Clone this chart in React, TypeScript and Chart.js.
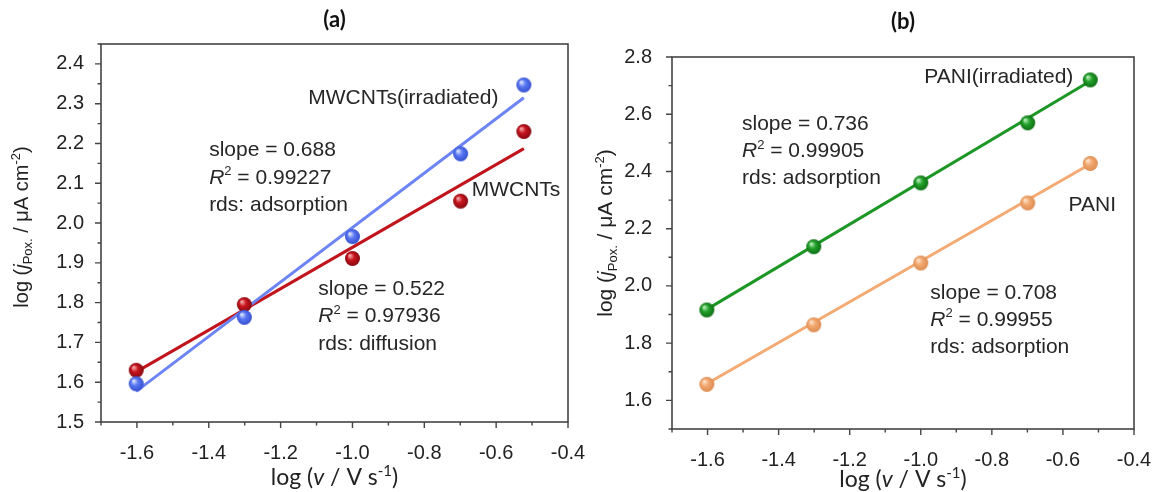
import React, { useEffect, useRef } from 'react';
import { Chart, registerables } from 'chart.js';

Chart.register(...registerables);

// ---------------- data ----------------
const logScanRate = [-1.602, -1.301, -1.0, -0.699, -0.523];
const mwcntsIrradiated = [1.596, 1.763, 1.966, 2.174, 2.347];
const mwcnts = [1.63, 1.795, 1.911, 2.055, 2.23];
const paniIrradiated = [1.916, 2.137, 2.36, 2.57, 2.72];
const pani = [1.656, 1.864, 2.08, 2.29, 2.428];

// end points of the fitted straight lines
const fitRange = [-1.602, -0.523];
const mwcntsIrradiatedFit = [1.577, 2.315];
const mwcntsFit = [1.626, 2.187];
const paniIrradiatedFit = [1.918, 2.716];
const paniFit = [1.658, 2.426];

const xMajorTicks = [-1.6, -1.4, -1.2, -1.0, -0.8, -0.6, -0.4];
const xMinorTicks = [-1.7, -1.5, -1.3, -1.1, -0.9, -0.7, -0.5];
const yMajorTicksA = [1.5, 1.6, 1.7, 1.8, 1.9, 2.0, 2.1, 2.2, 2.3, 2.4];
const yMinorTicksA = [1.55, 1.65, 1.75, 1.85, 1.95, 2.05, 2.15, 2.25, 2.35, 2.45];
const yMajorTicksB = [1.6, 1.8, 2.0, 2.2, 2.4, 2.6, 2.8];
const yMinorTicksB = [1.5, 1.7, 1.9, 2.1, 2.3, 2.5, 2.7];

// ---------------- rich text helpers ----------------
type Seg = { t: string; it?: boolean; sup?: boolean; sub?: boolean };

const SANS = '"Liberation Sans", Arial, sans-serif';
const TITLE_FONT = 'Lato, "Open Sans", sans-serif';

function segFont(s: Seg, size: number, family: string, bold = false) {
  const sz = s.sup || s.sub ? Math.round(size * 0.64) : size;
  return `${s.it ? 'italic ' : ''}${bold ? 'bold ' : ''}${sz}px ${family}`;
}

function richWidth(ctx: CanvasRenderingContext2D, segs: Seg[], size: number, family: string) {
  let w = 0;
  for (const s of segs) {
    ctx.font = segFont(s, size, family);
    w += ctx.measureText(s.t).width;
  }
  return w;
}

function drawRich(
  ctx: CanvasRenderingContext2D,
  segs: Seg[],
  x: number,
  y: number,
  size: number,
  family: string,
  align: 'left' | 'center',
  color: string
) {
  const w = richWidth(ctx, segs, size, family);
  let cx = align === 'center' ? x - w / 2 : x;
  ctx.save();
  ctx.fillStyle = color;
  ctx.textAlign = 'left';
  ctx.textBaseline = 'alphabetic';
  for (const s of segs) {
    ctx.font = segFont(s, size, family);
    const dy = s.sup ? -size * 0.4 : s.sub ? size * 0.22 : 0;
    ctx.fillText(s.t, cx, y + dy);
    cx += ctx.measureText(s.t).width;
  }
  ctx.restore();
}

function sphere(base: string, light: string, dark: string, r = 7.5) {
  const c = document.createElement('canvas');
  const size = Math.ceil(2 * r + 2);
  c.width = size;
  c.height = size;
  const g = c.getContext('2d') as CanvasRenderingContext2D;
  const cx = size / 2;
  const cy = size / 2;
  const grad = g.createRadialGradient(cx - r * 0.38, cy - r * 0.42, r * 0.05, cx, cy, r);
  grad.addColorStop(0, light);
  grad.addColorStop(0.45, base);
  grad.addColorStop(1, dark);
  g.fillStyle = grad;
  g.beginPath();
  g.arc(cx, cy, r, 0, Math.PI * 2);
  g.fill();
  return c;
}

const yTitle: Seg[] = [
  { t: 'log (' },
  { t: 'j', it: true },
  { t: 'Pox.', sub: true },
  { t: ' / \u03bcA cm' },
  { t: '-2', sup: true },
  { t: ')' },
];
const xTitle: Seg[] = [{ t: 'log (' }, { t: 'v', it: true }, { t: ' / V s' }, { t: '-1', sup: true }, { t: ')' }];

const statBlock = (slope: string, r2: string, rds: string): Seg[][] => [
  [{ t: `slope = ${slope}` }],
  [{ t: 'R', it: true }, { t: '2', sup: true }, { t: ` = ${r2}` }],
  [{ t: `rds: ${rds}` }],
];

type Note = { x: number; y: number; lines: Seg[][] };

type SeriesCfg = {
  values: number[];
  fit: number[];
  line: string;
  ball: [string, string, string];
};

type PanelCfg = {
  title: string;
  left: number;
  width: number;
  padTop: number;
  padRight: number;
  yAxisWidth: number;
  xAxisHeight: number;
  yMin: number;
  yMax: number;
  yMajor: number[];
  yMinor: number[];
  yPad: number;
  xPad: number;
  series: SeriesCfg[];
  notes: Note[];
  lineGap: number;
  yTitleX: number;
  yTitleShift: number;
  yTitleSize: number;
  xTitleY: number;
  titleY: number;
};

const panels: PanelCfg[] = [
  {
    title: '(a)',
    left: 0,
    width: 600,
    padTop: 44,
    padRight: 32,
    yAxisWidth: 101,
    xAxisHeight: 70,
    yMin: 1.5,
    yMax: 2.45,
    yMajor: yMajorTicksA,
    yMinor: yMinorTicksA,
    yPad: 9,
    xPad: 11,
    series: [
      { values: mwcntsIrradiated, fit: mwcntsIrradiatedFit, line: '#6d84f4', ball: ['#5a78f2', '#e6ebff', '#3550d0'] },
      { values: mwcnts, fit: mwcntsFit, line: '#c1151d', ball: ['#c8141e', '#f7b0b0', '#860a10'] },
    ],
    notes: [
      { x: -1.123, y: 2.3, lines: [[{ t: 'MWCNTs(irradiated)' }]] },
      { x: -0.668, y: 2.067, lines: [[{ t: 'MWCNTs' }]] },
      { x: -1.399, y: 2.168, lines: statBlock('0.688', '0.99227', 'adsorption') },
      { x: -1.095, y: 1.82, lines: statBlock('0.522', '0.97936', 'diffusion') },
    ],
    lineGap: 27.5,
    yTitleX: 28,
    yTitleShift: -6,
    yTitleSize: 20,
    xTitleY: 485,
    titleY: 20,
  },
  {
    title: '(b)',
    left: 576,
    width: 576,
    padTop: 57,
    padRight: 18,
    yAxisWidth: 96,
    xAxisHeight: 63,
    yMin: 1.5,
    yMax: 2.8,
    yMajor: yMajorTicksB,
    yMinor: yMinorTicksB,
    yPad: 12,
    xPad: 11,
    series: [
      { values: paniIrradiated, fit: paniIrradiatedFit, line: '#1c9624', ball: ['#22a12a', '#c4f5c4', '#0f6e15'] },
      { values: pani, fit: paniFit, line: '#f4aa72', ball: ['#f3a86f', '#fde6d4', '#dc8c52'] },
    ],
    notes: [
      { x: -0.99, y: 2.708, lines: [[{ t: 'PANI(irradiated)' }]] },
      { x: -0.584, y: 2.263, lines: [[{ t: 'PANI' }]] },
      { x: -1.503, y: 2.544, lines: statBlock('0.736', '0.99905', 'adsorption') },
      { x: -0.973, y: 1.956, lines: statBlock('0.708', '0.99955', 'adsorption') },
    ],
    lineGap: 27,
    yTitleX: 36,
    yTitleShift: -10,
    yTitleSize: 21,
    xTitleY: 487,
    titleY: 22,
  },
];

function ChartPanel({ cfg }: { cfg: PanelCfg }) {
  const ref = useRef<HTMLCanvasElement | null>(null);

  useEffect(() => {
    document.body.style.margin = '0';
    const canvas = ref.current;
    if (!canvas) return;

    const datasets: any[] = [];
    cfg.series.forEach((s) => {
      datasets.push({
        data: logScanRate.map((x, i) => ({ x, y: s.values[i] })),
        pointStyle: sphere(s.ball[0], s.ball[1], s.ball[2]),
        pointRadius: 7,
        showLine: false,
        order: 0,
      });
    });
    cfg.series.forEach((s) => {
      datasets.push({
        data: fitRange.map((x, i) => ({ x, y: s.fit[i] })),
        showLine: true,
        borderColor: s.line,
        borderWidth: 3,
        pointRadius: 0,
        order: 1,
      });
    });

    const decor = {
      id: 'decor',
      afterDatasetsDraw(chart: any) {
        const ctx: CanvasRenderingContext2D = chart.ctx;
        const a = chart.chartArea;
        const xs = chart.scales.x;
        const ys = chart.scales.y;
        ctx.save();
        ctx.strokeStyle = '#444';
        ctx.lineWidth = 1.6;
        ctx.strokeRect(a.left, a.top, a.right - a.left, a.bottom - a.top);
        ctx.lineWidth = 1.4;
        ctx.beginPath();
        const tickX = (v: number, len: number) => {
          const p = xs.getPixelForValue(v);
          ctx.moveTo(p, a.bottom);
          ctx.lineTo(p, a.bottom + len);
        };
        const tickY = (v: number, len: number) => {
          const p = ys.getPixelForValue(v);
          ctx.moveTo(a.left, p);
          ctx.lineTo(a.left - len, p);
        };
        xMajorTicks.forEach((v) => tickX(v, 6));
        xMinorTicks.forEach((v) => tickX(v, 3.5));
        cfg.yMajor.forEach((v) => tickY(v, 6));
        cfg.yMinor.forEach((v) => tickY(v, 3.5));
        ctx.stroke();
        ctx.restore();
      },
      afterDraw(chart: any) {
        const ctx: CanvasRenderingContext2D = chart.ctx;
        const a = chart.chartArea;
        const xs = chart.scales.x;
        const ys = chart.scales.y;
        // annotations
        cfg.notes.forEach((n) => {
          const px = xs.getPixelForValue(n.x);
          const py = ys.getPixelForValue(n.y);
          n.lines.forEach((line, i) => {
            drawRich(ctx, line, px, py + i * cfg.lineGap, 21, SANS, 'left', '#262626');
          });
        });
        // panel title
        ctx.save();
        ctx.font = `bold 22px ${TITLE_FONT}`;
        ctx.fillStyle = '#111';
        ctx.textAlign = 'center';
        ctx.textBaseline = 'middle';
        ctx.fillText(cfg.title, (a.left + a.right) / 2, cfg.titleY);
        ctx.restore();
        // x title
        drawRich(ctx, xTitle, (a.left + a.right) / 2, cfg.xTitleY, 23, TITLE_FONT, 'center', '#222');
        // y title
        ctx.save();
        ctx.translate(cfg.yTitleX, (a.top + a.bottom) / 2 + cfg.yTitleShift);
        ctx.rotate(-Math.PI / 2);
        drawRich(ctx, yTitle, 0, 0, cfg.yTitleSize, SANS, 'center', '#222');
        ctx.restore();
      },
    };

    const chart = new Chart(canvas, {
      type: 'scatter',
      data: { datasets },
      options: {
        animation: false,
        responsive: false,
        maintainAspectRatio: false,
        layout: { padding: { top: cfg.padTop, right: cfg.padRight, left: 0, bottom: 0 } },
        plugins: { legend: { display: false }, tooltip: { enabled: false }, title: { display: false } },
        scales: {
          x: {
            type: 'linear',
            min: -1.7,
            max: -0.4,
            grid: { display: false },
            border: { display: false },
            afterBuildTicks: (s: any) => {
              s.ticks = xMajorTicks.map((v) => ({ value: v }));
            },
            afterFit: (s: any) => {
              s.height = cfg.xAxisHeight;
              s.paddingLeft = 0;
              s.paddingRight = 0;
              s.paddingTop = 0;
              s.paddingBottom = 0;
            },
            ticks: {
              autoSkip: false,
              maxRotation: 0,
              padding: cfg.xPad,
              color: '#222',
              font: { family: SANS, size: 20 },
              callback: (v: any) => Number(v).toFixed(1),
            },
          },
          y: {
            type: 'linear',
            min: cfg.yMin,
            max: cfg.yMax,
            grid: { display: false },
            border: { display: false },
            afterBuildTicks: (s: any) => {
              s.ticks = cfg.yMajor.map((v) => ({ value: v }));
            },
            afterFit: (s: any) => {
              s.width = cfg.yAxisWidth;
              s.paddingLeft = 0;
              s.paddingRight = 0;
              s.paddingTop = 0;
              s.paddingBottom = 0;
            },
            ticks: {
              autoSkip: false,
              padding: cfg.yPad,
              color: '#222',
              font: { family: SANS, size: 20 },
              callback: (v: any) => Number(v).toFixed(1),
            },
          },
        },
      },
      plugins: [decor],
    } as any);

    return () => chart.destroy();
  }, [cfg]);

  return (
    <canvas
      ref={ref}
      width={cfg.width}
      height={492}
      style={{ position: 'absolute', left: cfg.left, top: 0, width: cfg.width, height: 492, display: 'block' }}
    />
  );
}

export default function App() {
  return (
    <div style={{ position: 'relative', width: 1152, height: 492, background: '#fff', overflow: 'hidden' }}>
      {panels.map((p) => (
        <ChartPanel key={p.title} cfg={p} />
      ))}
    </div>
  );
}
